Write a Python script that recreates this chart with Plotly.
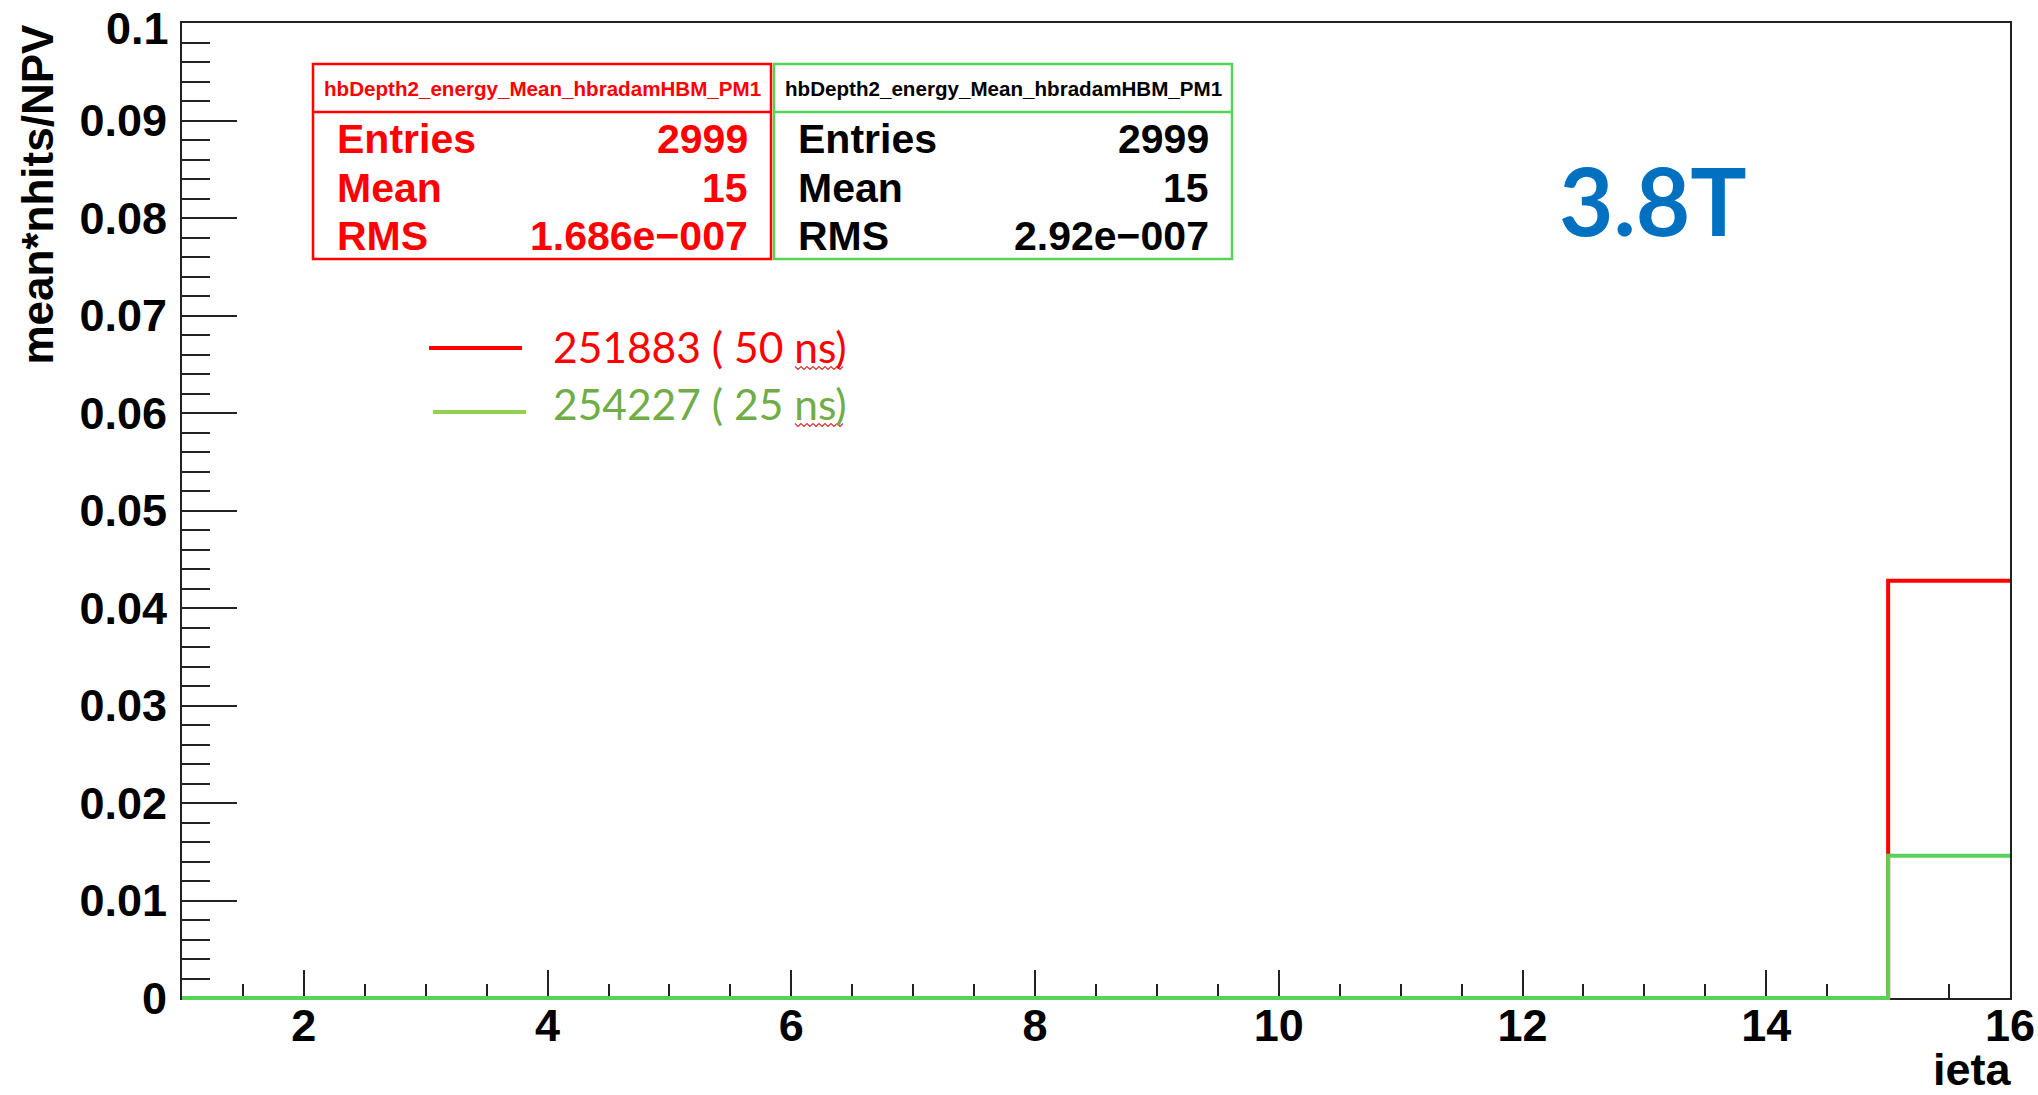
import plotly.graph_objects as go

# ---- data -------------------------------------------------------------
ieta_edges = [1, 2, 3, 4, 5, 6, 7, 8, 9, 10, 11, 12, 13, 14, 15, 16]
# mean*nhits/NPV per ieta bin (bins [1,2) ... [15,16))
run_251883_50ns = [0.0, 0.0, 0.0, 0.0, 0.0, 0.0, 0.0, 0.0, 0.0, 0.0, 0.0, 0.0, 0.0, 0.0, 0.0428]
run_254227_25ns = [0.0, 0.0, 0.0, 0.0, 0.0, 0.0, 0.0, 0.0, 0.0, 0.0, 0.0, 0.0, 0.0, 0.0, 0.0146]

hist_name = "hbDepth2_energy_Mean_hbradamHBM_PM1"
stat_labels = ["Entries", "Mean", "RMS"]
stats_50ns = ["2999", "15", "1.686e\u2212007"]
stats_25ns = ["2999", "15", "2.92e\u2212007"]
legend_labels = ["251883 ( 50 ns)", "254227 ( 25 ns)"]
field_label = "3.8T"

y_tickvals = [0, 0.01, 0.02, 0.03, 0.04, 0.05, 0.06, 0.07, 0.08, 0.09, 0.1]
y_ticktext = ["0", "0.01", "0.02", "0.03", "0.04", "0.05", "0.06", "0.07", "0.08", "0.09", "0.1"]

# ---- styling ----------------------------------------------------------
RED = "#ff0000"
GREEN = "#58d258"
LEG_GREEN_LINE = "#92d050"
LEG_GREEN_TEXT = "#70ad47"
BLUE = "#0070c0"
AXFONT = "Liberation Sans"

W, H = 2038, 1095
ML, MR, MT, MB = 182, 28, 23, 97
PW, PH = W - ML - MR, H - MT - MB
PAD = 4  # extra pixels below the frame for the histogram layer


def px(x):
    return (x - ML) / PW


def py(y):
    return 1 - (y - MT) / (PH + PAD)


def step_xy(edges, vals):
    # ROOT-style histogram outline: left edges plus the final right edge
    return list(edges), list(vals) + [vals[-1]]


fig = go.Figure()

# empty trace so the framed axes are always drawn
fig.add_trace(go.Scatter(x=[None], y=[None], xaxis="x", yaxis="y",
                         showlegend=False, hoverinfo="skip"))

# histograms sit on a twin y-axis that reaches PAD pixels below the frame
# (same scale), so the thick baseline is not clipped in half
ymax = 0.1
y2_min = -ymax * PAD / PH
for vals, col in [(run_251883_50ns, RED), (run_254227_25ns, GREEN)]:
    xs, ys = step_xy(ieta_edges, vals)
    fig.add_trace(go.Scatter(
        x=xs, y=ys, mode="lines", line=dict(color=col, width=4, shape="hv"),
        xaxis="x", yaxis="y2", showlegend=False, hoverinfo="skip"))

# the topmost y label sits against the page edge, so it is drawn as an
# annotation next to its tick instead of by the axis
axis_ticktext = y_ticktext[:-1] + [""]
top_label = y_ticktext[-1]

tick_font = dict(family=AXFONT, size=45, color="black", weight="bold")
fig.update_layout(
    width=W, height=H,
    margin=dict(l=ML, r=MR, t=MT, b=MB - PAD, pad=0, autoexpand=False),
    paper_bgcolor="white", plot_bgcolor="rgba(0,0,0,0)",
    showlegend=False,
    xaxis=dict(
        range=[1, 16], tickmode="linear", tick0=0, dtick=2,
        ticks="inside", ticklen=28, tickwidth=1.5, tickcolor="#222",
        minor=dict(ticks="inside", ticklen=14, tickwidth=1.5, tickcolor="#222", dtick=0.5, tick0=0),
        showline=True, linecolor="#222", linewidth=2, mirror=True,
        showgrid=False, zeroline=False, tickfont=tick_font,
        ticklabelstandoff=-13, ticklabeloverflow="allow", anchor="y", automargin=False,
    ),
    yaxis=dict(
        range=[0, ymax], tickmode="array", tickvals=y_tickvals, ticktext=axis_ticktext,
        ticks="inside", ticklen=55, tickwidth=1.5, tickcolor="#222",
        minor=dict(ticks="inside", ticklen=28, tickwidth=1.5, tickcolor="#222", dtick=0.002, tick0=0),
        showline=True, linecolor="#222", linewidth=2, mirror=True,
        showgrid=False, zeroline=False, tickfont=tick_font,
        ticklabelstandoff=4, ticklabeloverflow="allow", automargin=False,
        anchor="x", domain=[PAD / (PH + PAD), 1],
    ),
    yaxis2=dict(
        range=[y2_min, ymax], domain=[0, 1], anchor="x", automargin=False,
        visible=False, showgrid=False, zeroline=False, fixedrange=True,
    ),
)

# ---- stat boxes ---------------------------------------------------------
shapes = []
annotations = []


def add_box(x0, x1, col, text_col, values):
    y0, ysep, y1 = 64, 112, 259
    shapes.append(dict(type="rect", xref="paper", yref="paper",
                       x0=px(x0), x1=px(x1), y0=py(y1), y1=py(y0),
                       line=dict(color=col, width=2.5), fillcolor="white", layer="above"))
    shapes.append(dict(type="line", xref="paper", yref="paper",
                       x0=px(x0), x1=px(x1), y0=py(ysep), y1=py(ysep),
                       line=dict(color=col, width=2.5), layer="above"))
    annotations.append(dict(text=hist_name, xref="paper", yref="paper",
                            x=px((x0 + x1) / 2), y=py(88), xanchor="center", yanchor="middle",
                            showarrow=False,
                            font=dict(family=AXFONT, size=20.6, color=text_col, weight="bold")))
    for i, (lab, val) in enumerate(zip(stat_labels, values)):
        yc = 139 + 48.5 * i
        annotations.append(dict(text=lab, xref="paper", yref="paper",
                                x=px(x0 + 22), y=py(yc), xanchor="left", yanchor="middle",
                                showarrow=False,
                                font=dict(family=AXFONT, size=41, color=text_col, weight="bold")))
        annotations.append(dict(text=val, xref="paper", yref="paper",
                                x=px(x1 - 21), y=py(yc), xanchor="right", yanchor="middle",
                                showarrow=False,
                                font=dict(family=AXFONT, size=41, color=text_col, weight="bold")))


add_box(313, 771, RED, RED, stats_50ns)
add_box(774, 1232, GREEN, "black", stats_25ns)

# ---- hand-drawn legend ---------------------------------------------------
leg_rows = [(348, 346, RED, RED), (412, 404, LEG_GREEN_LINE, LEG_GREEN_TEXT)]
for (ly, ty, lcol, tcol), lab, lx in zip(leg_rows, legend_labels, [(429, 522), (433, 526)]):
    shapes.append(dict(type="line", xref="paper", yref="paper",
                       x0=px(lx[0]), x1=px(lx[1]), y0=py(ly), y1=py(ly),
                       line=dict(color=lcol, width=4)))
    annotations.append(dict(text=lab, xref="paper", yref="paper",
                            x=px(551), y=py(ty), xanchor="left", yanchor="middle",
                            showarrow=False, font=dict(family="Lato", size=42.5, color=tcol)))

# spell-check squiggles under "ns"
for yb in (368, 425):
    pts = []
    x = 795
    k = 0
    while x <= 845:
        pts.append((px(x), py(yb + (1.5 if k % 2 else -1.5))))
        x += 3
        k += 1
    path = "M " + " L ".join(f"{a:.5f},{b:.5f}" for a, b in pts)
    shapes.append(dict(type="path", xref="paper", yref="paper", path=path,
                       line=dict(color="#e03030", width=1.2)))

# ---- top y label, field label and axis titles ---------------------------
annotations.append(dict(text=top_label, xref="paper", yref="paper",
                        x=px(171), y=py(1), xanchor="right", yanchor="top",
                        showarrow=False, font=tick_font))
annotations.append(dict(text=field_label, xref="paper", yref="paper",
                        x=px(1653), y=py(199), xanchor="center", yanchor="middle",
                        showarrow=False, font=dict(family="Lato", size=94, color=BLUE, weight="bold")))
annotations.append(dict(text="mean*nhits/NPV", xref="paper", yref="paper",
                        x=px(37), y=py(22), xanchor="center", yanchor="top", textangle=-90,
                        showarrow=False,
                        font=dict(family=AXFONT, size=44, color="black", weight="bold")))
annotations.append(dict(text="ieta", xref="paper", yref="paper",
                        x=px(2014), y=py(1097), xanchor="right", yanchor="bottom",
                        showarrow=False,
                        font=dict(family=AXFONT, size=45, color="black", weight="bold")))

fig.update_layout(shapes=shapes, annotations=annotations)

fig.write_html("out.html", config={"displayModeBar": False})
